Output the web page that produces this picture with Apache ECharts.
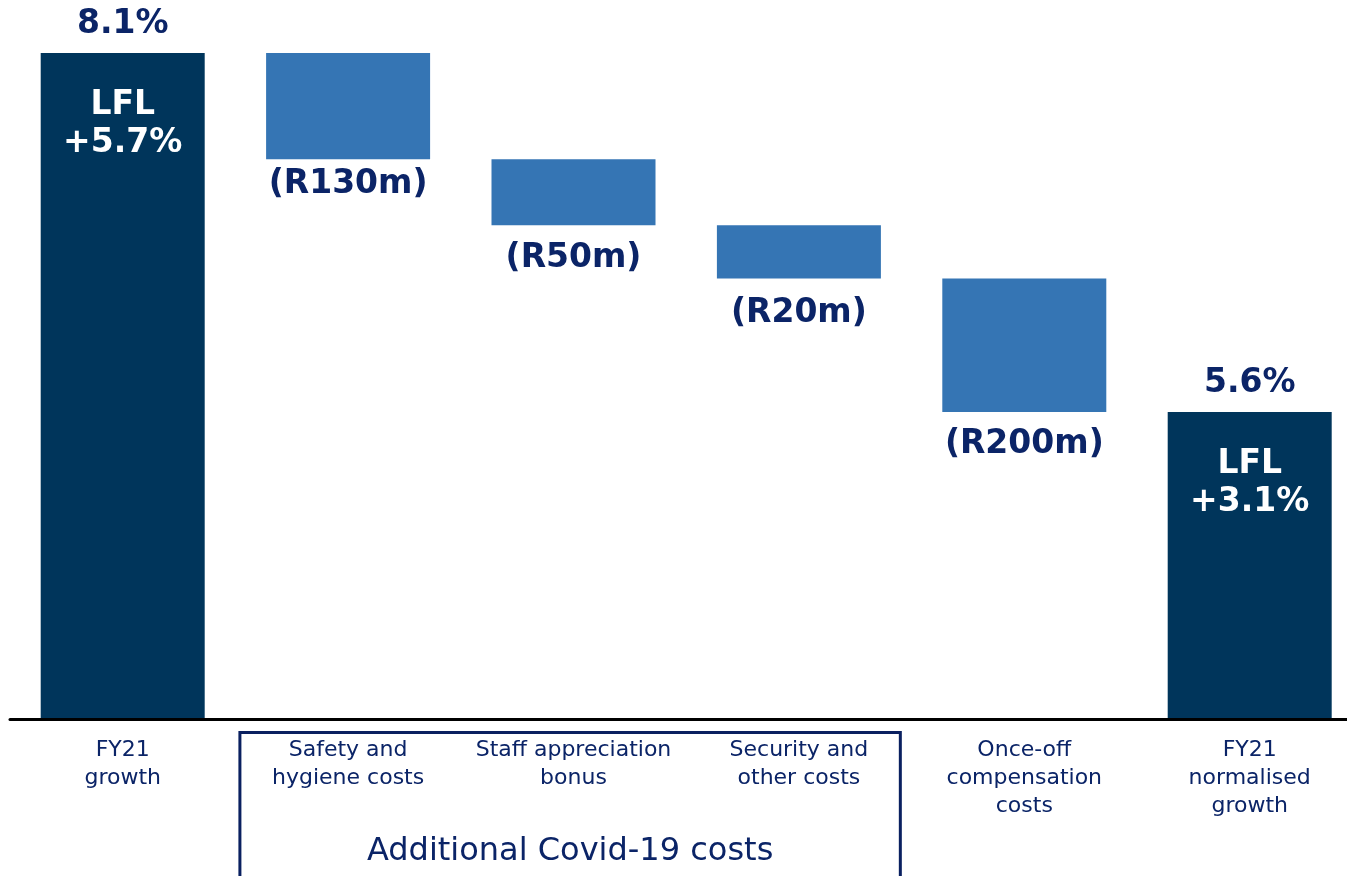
<!DOCTYPE html>
<html>
<head>
<meta charset="utf-8">
<style>
  html, body { margin: 0; padding: 0; background: #ffffff; }
  #chart { width: 1347px; height: 876px; }
</style>
<script src="https://cdn.jsdelivr.net/npm/echarts@6/dist/echarts.min.js"></script>
</head>
<body>
<div id="chart"></div>
<script>
// Categories along the bottom of the waterfall
const categories = [
  'FY21\ngrowth',
  'Safety and\nhygiene costs',
  'Staff appreciation\nbonus',
  'Security and\nother costs',
  'Once-off\ncompensation\ncosts',
  'FY21\nnormalised\ngrowth'
];

// Growth totals (percentage points), start and end of the bridge
const startGrowth = 8.1;
const endGrowth = 5.6;

// Like-for-like growth shown inside the total bars
const lflLabels = ['LFL\n+5.7%', 'LFL\n+3.1%'];

// Cost steps expressed in percentage points of growth
const costSteps = [0.74, 0.46, 0.37, 0.93];
const costLabels = ['(R130m)', '(R50m)', '(R20m)', '(R200m)'];

// Lower end of the (truncated) value axis
const axisFloor = 3.47;

const NAVY_TEXT = '#0b2467';
const DARK_BAR = '#00355b';
const STEP_BAR = '#3575b4';
const FONT = '"DejaVu Sans", Verdana, sans-serif';
const BOLD_SIZE = 33;
// Gap between each cost bar and its amount label
const costLabelGap = [9, 17, 18, 16];

// Build the waterfall series
const totals = categories.map(() => '-');
totals[0] = startGrowth;
totals[categories.length - 1] = endGrowth;

const base = categories.map(() => '-');
const steps = categories.map(() => '-');
let level = startGrowth;
costSteps.forEach((v, i) => {
  level = +(level - v).toFixed(4);
  base[i + 1] = level;
  steps[i + 1] = v;
});

const chart = echarts.init(document.getElementById('chart'));

const option = {
  animation: false,
  grid: { left: 10, width: 1352.4, top: 53, bottom: 158, outerBoundsMode: 'none', containLabel: false },
  xAxis: {
    type: 'category',
    data: categories,
    offset: 1,
    axisLine: { show: true, lineStyle: { color: '#000000', width: 3 } },
    axisTick: { show: false },
    axisLabel: {
      interval: 0,
      margin: 17,
      color: NAVY_TEXT,
      fontFamily: FONT,
      fontSize: 22,
      lineHeight: 28,
      verticalAlign: 'top'
    }
  },
  yAxis: {
    type: 'value',
    min: axisFloor,
    max: startGrowth,
    show: false,
    splitLine: { show: false }
  },
  series: [
    {
      name: 'Total',
      type: 'bar',
      barWidth: 164,
      barGap: '-100%',
      data: totals.map((v, i) => v === '-' ? '-' : {
        value: v,
        label: { formatter: i === 0 ? lflLabels[0] : lflLabels[1] }
      }),
      itemStyle: { color: DARK_BAR },
      label: {
        show: true,
        position: 'insideTop',
        distance: 33,
        color: '#ffffff',
        fontFamily: FONT,
        fontWeight: 'bold',
        fontSize: BOLD_SIZE,
        lineHeight: 38,
        align: 'center'
      },
      z: 3
    },
    {
      name: 'Base',
      type: 'bar',
      stack: 'bridge',
      barWidth: 164,
      data: base,
      itemStyle: { color: 'transparent' },
      silent: true
    },
    {
      name: 'Cost',
      type: 'bar',
      stack: 'bridge',
      barWidth: 164,
      data: steps.map((v, i) => v === '-' ? '-' : {
        value: v,
        label: { formatter: costLabels[i - 1], distance: costLabelGap[i - 1] }
      }),
      itemStyle: { color: STEP_BAR },
      label: {
        show: true,
        position: 'bottom',
        color: NAVY_TEXT,
        fontFamily: FONT,
        fontWeight: 'bold',
        fontSize: BOLD_SIZE
      }
    },
    {
      name: 'TotalValue',
      type: 'bar',
      barWidth: 164,
      barGap: '-100%',
      data: totals,
      itemStyle: { color: 'transparent' },
      silent: true,
      z: 1,
      label: {
        show: true,
        position: 'top',
        distance: 12,
        formatter: (p) => p.value.toFixed(1) + '%',
        color: NAVY_TEXT,
        fontFamily: FONT,
        fontWeight: 'bold',
        fontSize: BOLD_SIZE
      }
    }
  ]
};

chart.setOption(option);

// Bracket grouping the Covid-19 cost categories
const c1 = chart.convertToPixel({ xAxisIndex: 0 }, 1);
const c3 = chart.convertToPixel({ xAxisIndex: 0 }, 3);
const band = c3 - chart.convertToPixel({ xAxisIndex: 0 }, 2);
const boxLeft = c1 - band * 0.48;
const boxRight = c3 + band * 0.45;
chart.setOption({
  graphic: [
    {
      type: 'rect',
      shape: { x: boxLeft, y: 732.5, width: boxRight - boxLeft, height: 200 },
      style: { fill: 'none', stroke: '#0a2060', lineWidth: 3 },
      z: 10
    },
    {
      type: 'text',
      x: (boxLeft + boxRight) / 2,
      y: 852,
      style: {
        text: 'Additional Covid-19 costs',
        fill: NAVY_TEXT,
        font: '32px ' + FONT,
        align: 'center',
        verticalAlign: 'middle'
      },
      z: 10
    }
  ]
});
</script>
</body>
</html>
